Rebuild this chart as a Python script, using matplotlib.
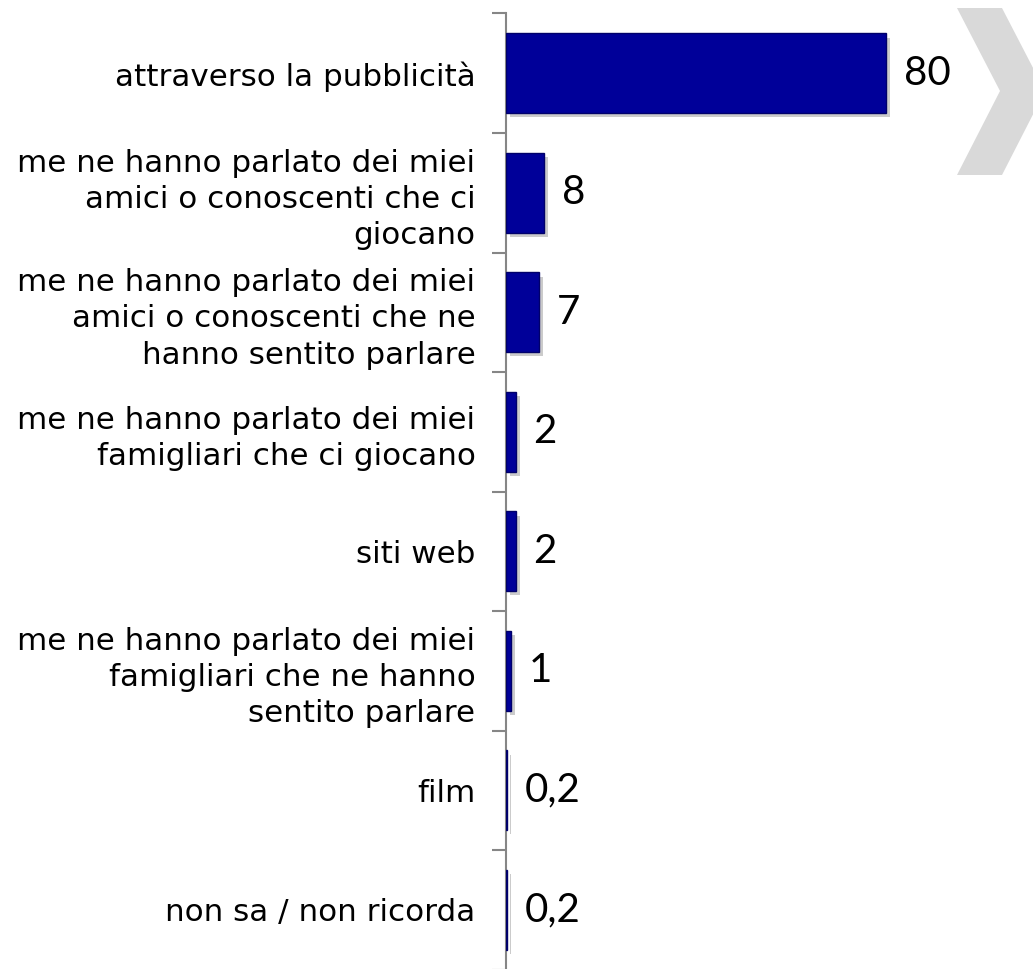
import matplotlib
matplotlib.use("Agg")
import matplotlib.pyplot as plt
from matplotlib.patches import Polygon
import matplotlib.patheffects as pe
import numpy as np

categories = [
    "attraverso la pubblicità",
    "me ne hanno parlato dei miei\namici o conoscenti che ci\ngiocano",
    "me ne hanno parlato dei miei\namici o conoscenti che ne\nhanno sentito parlare",
    "me ne hanno parlato dei miei\nfamigliari che ci giocano",
    "siti web",
    "me ne hanno parlato dei miei\nfamigliari che ne hanno\nsentito parlare",
    "film",
    "non sa / non ricorda",
]
values = [80, 8, 7, 2, 2, 1, 0.2, 0.2]
value_labels = ["80", "8", "7", "2", "2", "1", "0,2", "0,2"]

W, H = 1033, 969
fig = plt.figure(figsize=(W / 100, H / 100), dpi=100)
fig.patch.set_facecolor("white")

# chevron decoration
chev_px = [(957, 8), (1002, 8), (1045, 91), (1002, 175), (957, 175), (1000, 91)]
chev = Polygon([(x / W, 1 - y / H) for x, y in chev_px], closed=True,
               transform=fig.transFigure, facecolor="#D9D9D9", edgecolor="none", zorder=0)
fig.patches.append(chev)

left = 506 / W
top = 1 - 13.5 / H
bottom = 1 - 969.5 / H
ax = fig.add_axes([left, bottom, 1000 / W - left, top - bottom])
ax.set_facecolor("none")

n = len(categories)
y = np.arange(n)
bars = ax.barh(y, values, height=0.667, color="#000099", edgecolor="#00006A",
               linewidth=1.0, zorder=3)
for b in bars:
    b.set_path_effects([pe.SimplePatchShadow(offset=(3, -3), shadow_rgbFace="#999999", alpha=0.5),
                        pe.Normal()])

xmax = 494 / 4.75
ax.set_xlim(0, xmax)
ax.set_ylim(n - 0.5, -0.5)

for yi, v, lab in zip(y, values, value_labels):
    ax.annotate(lab, xy=(v, yi), xytext=(13, 0), textcoords="offset points",
                ha="left", va="center", fontsize=29, color="black",
                family=["Lato", "DejaVu Sans"])

ax.set_yticks(y)
ax.set_yticklabels(categories, fontsize=22.3, family=["DejaVu Sans"],
                   linespacing=1.32)
ax.tick_params(axis="y", which="major", length=0, pad=22)
ax.set_yticks(np.arange(-0.5, n, 1), minor=True)
ax.tick_params(axis="y", which="minor", length=10, width=1.5, color="#868686")
ax.set_xticks([])
for s in ["top", "right", "bottom"]:
    ax.spines[s].set_visible(False)
ax.spines["left"].set_color("#868686")
ax.spines["left"].set_linewidth(1.5)

fig.savefig("out.png", dpi=100, facecolor="white")
